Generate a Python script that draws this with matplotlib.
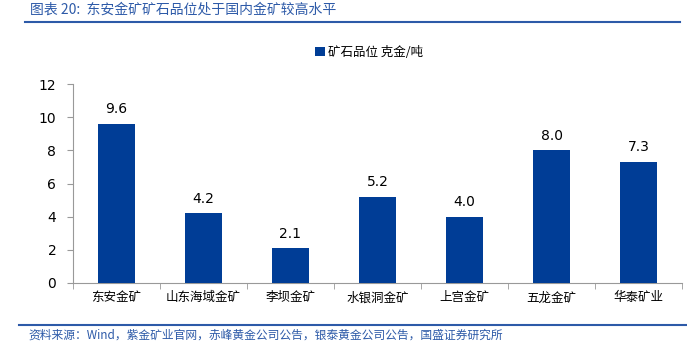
import matplotlib

matplotlib.use("Agg")
import matplotlib.pyplot as plt
import numpy as np

plt.rcParams["font.family"] = ["Noto Sans CJK SC", "DejaVu Sans"]

mines = ["东安金矿", "山东海域金矿", "李坝金矿", "水银洞金矿", "上宫金矿", "五龙金矿", "华泰矿业"]
grade = [9.6, 4.2, 2.1, 5.2, 4.0, 8.0, 7.3]
yticks = [0, 2, 4, 6, 8, 10, 12]

BAR = "#003D96"
TITLE = "#2D5AA8"

fig = plt.figure(figsize=(6.87, 3.57), dpi=100)
ax = fig.add_axes([73 / 687, 1 - 283 / 357, 609 / 687, 199 / 357])

x = np.arange(len(mines))
ax.bar(x, grade, width=0.43, color=BAR, label="矿石品位 克金/吨", zorder=3)
for xi, v in zip(x, grade):
    ax.text(xi, v + 0.45, f"{v:.1f}", ha="center", va="bottom", fontsize=10,
            family=["DejaVu Sans"])

ax.set_xlim(-0.5, len(mines) - 0.5)
ax.set_ylim(0, 12)
ax.set_yticks(yticks)
ax.set_yticklabels([str(t) for t in yticks], family=["DejaVu Sans"], fontsize=10)
ax.set_xticks(x)
ax.set_xticklabels(mines, fontsize=9)
ax.set_xticks(np.arange(len(mines) + 1) - 0.5, minor=True)
ax.tick_params(axis="x", which="major", length=0, pad=6)
ax.tick_params(axis="x", which="minor", length=4, color="#999999", direction="out")
ax.tick_params(axis="y", length=4, color="#999999", pad=8)
for s in ["top", "right"]:
    ax.spines[s].set_visible(False)
ax.spines["left"].set_color("#999999")
ax.spines["bottom"].set_color("#999999")

ax.legend(loc="center", bbox_to_anchor=(0.486, 1.16), frameon=False, fontsize=9,
          handlelength=0.8, handleheight=0.8, handletextpad=0.3)

fig.text(30 / 687, 1 - 10 / 357, "图表 20:  东安金矿矿石品位处于国内金矿较高水平", color=TITLE,
         fontsize=10, style="italic", va="center", ha="left")
fig.add_artist(plt.Line2D([25 / 687, 680 / 687], [1 - 22 / 357] * 2, color=TITLE, lw=1.5))
fig.add_artist(plt.Line2D([19 / 687, 1.0], [1 - 325 / 357] * 2, color=TITLE, lw=1.5))
fig.text(28 / 687, 1 - 335 / 357, "资料来源：Wind，紫金矿业官网，赤峰黄金公司公告，银泰黄金公司公告，国盛证券研究所",
         color=TITLE, fontsize=8.5, style="italic", va="center", ha="left")

fig.savefig("out.png", dpi=100)
